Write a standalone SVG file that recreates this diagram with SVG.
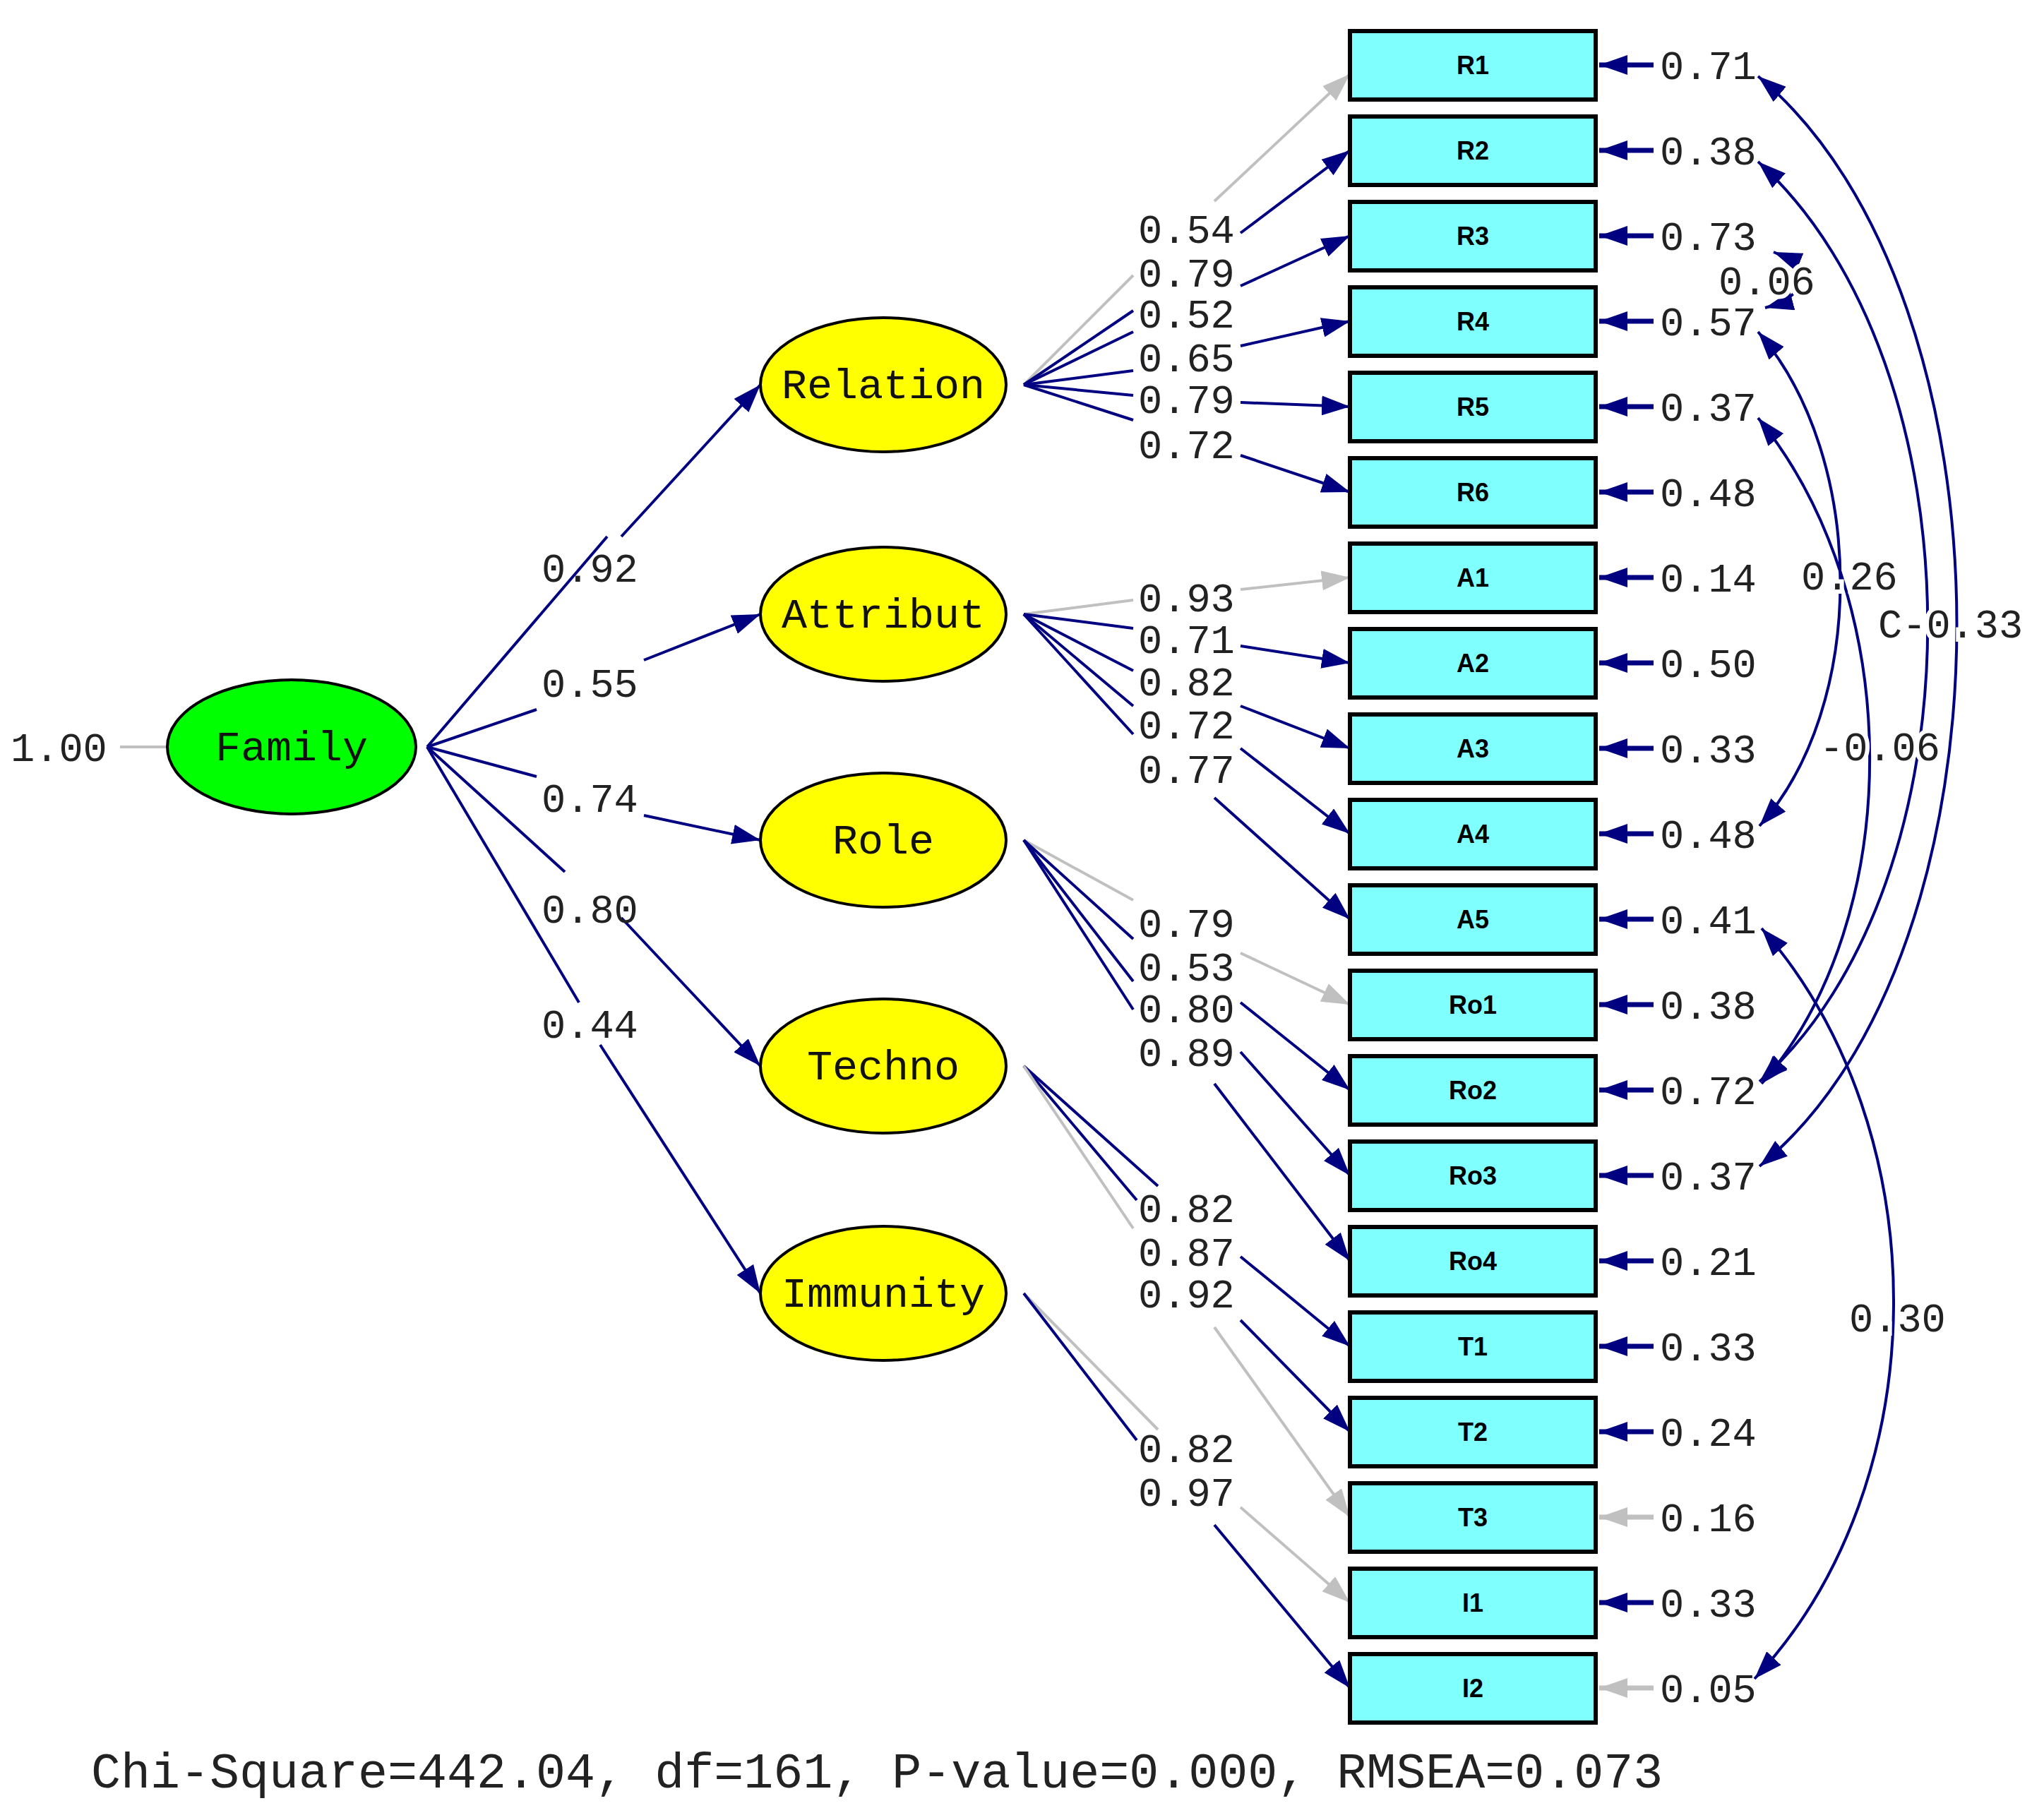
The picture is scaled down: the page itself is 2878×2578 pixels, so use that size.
<svg xmlns="http://www.w3.org/2000/svg" width="2878" height="2578" viewBox="0 0 2878 2578">
<style>
.t{font-family:"Liberation Mono",monospace;font-size:57px;fill:#222}
.h{paint-order:stroke;stroke:#fff;stroke-width:12px}
.lat{font-family:"Liberation Mono",monospace;font-size:60px;fill:#111;text-anchor:middle}
.bx{fill:#80ffff;stroke:#000;stroke-width:6}
.bl{font-family:"Liberation Sans",sans-serif;font-weight:bold;font-size:36px;fill:#000;text-anchor:middle}
.n{fill:none;stroke:#000080;stroke-width:4}
.g{fill:none;stroke:#c0c0c0;stroke-width:4}
.ne{stroke:#000080;stroke-width:7}
.ge{stroke:#c0c0c0;stroke-width:7}
</style>
<defs>
<marker id="an" markerUnits="userSpaceOnUse" markerWidth="42" markerHeight="28" refX="40" refY="14" orient="auto-start-reverse"><path d="M0,0 L40,14 L0,28 z" fill="#000080"/></marker>
<marker id="ag" markerUnits="userSpaceOnUse" markerWidth="42" markerHeight="28" refX="40" refY="14" orient="auto-start-reverse"><path d="M0,0 L40,14 L0,28 z" fill="#c0c0c0"/></marker>
</defs>
<g id="connectors">
<line x1="170" y1="1058" x2="236" y2="1058" class="g"/>
<path class="n" d="M605,1058 L860,760"/><path class="n" d="M880,760 L1077,545" marker-end="url(#an)"/>
<path class="n" d="M605,1058 L760,1005"/><path class="n" d="M912,935 L1077,870" marker-end="url(#an)"/>
<path class="n" d="M605,1058 L760,1100"/><path class="n" d="M912,1155 L1077,1190" marker-end="url(#an)"/>
<path class="n" d="M605,1058 L800,1235"/><path class="n" d="M880,1300 L1077,1510" marker-end="url(#an)"/>
<path class="n" d="M605,1058 L820,1420"/><path class="n" d="M850,1480 L1077,1832" marker-end="url(#an)"/>
<!-- Relation -->
<path class="g" d="M1450,545 L1605,390"/><path class="g" d="M1720,285 L1912,105" marker-end="url(#ag)"/>
<path class="n" d="M1450,545 L1605,440"/><path class="n" d="M1757,330 L1912,213" marker-end="url(#an)"/>
<path class="n" d="M1450,545 L1605,470"/><path class="n" d="M1757,405 L1912,334" marker-end="url(#an)"/>
<path class="n" d="M1450,545 L1605,525"/><path class="n" d="M1757,490 L1912,455" marker-end="url(#an)"/>
<path class="n" d="M1450,545 L1605,560"/><path class="n" d="M1757,570 L1912,576" marker-end="url(#an)"/>
<path class="n" d="M1450,545 L1605,595"/><path class="n" d="M1757,645 L1912,697" marker-end="url(#an)"/>
<!-- Attribut -->
<path class="g" d="M1450,870 L1605,850"/><path class="g" d="M1757,835 L1912,818" marker-end="url(#ag)"/>
<path class="n" d="M1450,870 L1605,890"/><path class="n" d="M1757,915 L1912,939" marker-end="url(#an)"/>
<path class="n" d="M1450,870 L1605,950"/><path class="n" d="M1757,1000 L1912,1060" marker-end="url(#an)"/>
<path class="n" d="M1450,870 L1605,1000"/><path class="n" d="M1757,1060 L1912,1181" marker-end="url(#an)"/>
<path class="n" d="M1450,870 L1605,1040"/><path class="n" d="M1720,1130 L1912,1302" marker-end="url(#an)"/>
<!-- Role -->
<path class="g" d="M1450,1190 L1605,1275"/><path class="g" d="M1757,1350 L1912,1423" marker-end="url(#ag)"/>
<path class="n" d="M1450,1190 L1605,1330"/><path class="n" d="M1757,1420 L1912,1544" marker-end="url(#an)"/>
<path class="n" d="M1450,1190 L1605,1390"/><path class="n" d="M1757,1490 L1912,1665" marker-end="url(#an)"/>
<path class="n" d="M1450,1190 L1605,1430"/><path class="n" d="M1720,1535 L1912,1786" marker-end="url(#an)"/>
<!-- Techno -->
<path class="n" d="M1450,1510 L1640,1680"/><path class="n" d="M1757,1780 L1912,1907" marker-end="url(#an)"/>
<path class="n" d="M1450,1510 L1610,1700"/><path class="n" d="M1757,1870 L1912,2028" marker-end="url(#an)"/>
<path class="g" d="M1450,1510 L1605,1740"/><path class="g" d="M1720,1880 L1912,2149" marker-end="url(#ag)"/>
<!-- Immunity -->
<path class="g" d="M1450,1832 L1640,2025"/><path class="g" d="M1757,2135 L1912,2270" marker-end="url(#ag)"/>
<path class="n" d="M1450,1832 L1610,2040"/><path class="n" d="M1720,2160 L1912,2391" marker-end="url(#an)"/>
<!-- error arrows -->
<g class="ne">
<line x1="2342" y1="92" x2="2265" y2="92" marker-end="url(#an)"/>
<line x1="2342" y1="213" x2="2265" y2="213" marker-end="url(#an)"/>
<line x1="2342" y1="334" x2="2265" y2="334" marker-end="url(#an)"/>
<line x1="2342" y1="455" x2="2265" y2="455" marker-end="url(#an)"/>
<line x1="2342" y1="576" x2="2265" y2="576" marker-end="url(#an)"/>
<line x1="2342" y1="697" x2="2265" y2="697" marker-end="url(#an)"/>
<line x1="2342" y1="818" x2="2265" y2="818" marker-end="url(#an)"/>
<line x1="2342" y1="939" x2="2265" y2="939" marker-end="url(#an)"/>
<line x1="2342" y1="1060" x2="2265" y2="1060" marker-end="url(#an)"/>
<line x1="2342" y1="1181" x2="2265" y2="1181" marker-end="url(#an)"/>
<line x1="2342" y1="1302" x2="2265" y2="1302" marker-end="url(#an)"/>
<line x1="2342" y1="1423" x2="2265" y2="1423" marker-end="url(#an)"/>
<line x1="2342" y1="1544" x2="2265" y2="1544" marker-end="url(#an)"/>
<line x1="2342" y1="1665" x2="2265" y2="1665" marker-end="url(#an)"/>
<line x1="2342" y1="1786" x2="2265" y2="1786" marker-end="url(#an)"/>
<line x1="2342" y1="1907" x2="2265" y2="1907" marker-end="url(#an)"/>
<line x1="2342" y1="2028" x2="2265" y2="2028" marker-end="url(#an)"/>
<line x1="2342" y1="2270" x2="2265" y2="2270" marker-end="url(#an)"/>
</g>
<g class="ge">
<line x1="2342" y1="2149" x2="2265" y2="2149" marker-end="url(#ag)"/>
<line x1="2342" y1="2391" x2="2265" y2="2391" marker-end="url(#ag)"/>
</g>
<!-- correlated errors -->
<path class="n" d="M2490,108 C2865,420 2865,1350 2492,1652" marker-start="url(#an)" marker-end="url(#an)"/>
<path class="n" d="M2490,229 C2810,520 2810,1250 2492,1532" marker-start="url(#an)" marker-end="url(#an)"/>
<path class="n" d="M2490,592 C2700,850 2700,1300 2495,1535" marker-start="url(#an)" marker-end="url(#an)"/>
<path class="n" d="M2490,470 C2645,650 2645,1000 2492,1170" marker-start="url(#an)" marker-end="url(#an)"/>
<path class="n" d="M2512,357 C2570,380 2560,420 2500,436" marker-start="url(#an)" marker-end="url(#an)"/>
<path class="n" d="M2495,1315 C2746,1600 2746,2100 2485,2378" marker-start="url(#an)" marker-end="url(#an)"/>
</g>
<g id="Family"><ellipse cx="413" cy="1058" rx="176" ry="95" fill="#00ff00" stroke="#000" stroke-width="4"/><text class="lat" x="413" y="1077">Family</text></g>
<g id="Relation"><ellipse cx="1251" cy="545" rx="174" ry="95" fill="#ffff00" stroke="#000" stroke-width="4"/><text class="lat" x="1251" y="564">Relation</text></g>
<g id="Attribut"><ellipse cx="1251" cy="870" rx="174" ry="95" fill="#ffff00" stroke="#000" stroke-width="4"/><text class="lat" x="1251" y="889">Attribut</text></g>
<g id="Role"><ellipse cx="1251" cy="1190" rx="174" ry="95" fill="#ffff00" stroke="#000" stroke-width="4"/><text class="lat" x="1251" y="1209">Role</text></g>
<g id="Techno"><ellipse cx="1251" cy="1510" rx="174" ry="95" fill="#ffff00" stroke="#000" stroke-width="4"/><text class="lat" x="1251" y="1529">Techno</text></g>
<g id="Immunity"><ellipse cx="1251" cy="1832" rx="174" ry="95" fill="#ffff00" stroke="#000" stroke-width="4"/><text class="lat" x="1251" y="1851">Immunity</text></g>
<g id="boxes">
<g id="R1"><rect class="bx" x="1912" y="44" width="348" height="97"/><text class="bl" x="2086" y="105">R1</text></g>
<g id="R2"><rect class="bx" x="1912" y="165" width="348" height="97"/><text class="bl" x="2086" y="226">R2</text></g>
<g id="R3"><rect class="bx" x="1912" y="286" width="348" height="97"/><text class="bl" x="2086" y="347">R3</text></g>
<g id="R4"><rect class="bx" x="1912" y="407" width="348" height="97"/><text class="bl" x="2086" y="468">R4</text></g>
<g id="R5"><rect class="bx" x="1912" y="528" width="348" height="97"/><text class="bl" x="2086" y="589">R5</text></g>
<g id="R6"><rect class="bx" x="1912" y="649" width="348" height="97"/><text class="bl" x="2086" y="710">R6</text></g>
<g id="A1"><rect class="bx" x="1912" y="770" width="348" height="97"/><text class="bl" x="2086" y="831">A1</text></g>
<g id="A2"><rect class="bx" x="1912" y="891" width="348" height="97"/><text class="bl" x="2086" y="952">A2</text></g>
<g id="A3"><rect class="bx" x="1912" y="1012" width="348" height="97"/><text class="bl" x="2086" y="1073">A3</text></g>
<g id="A4"><rect class="bx" x="1912" y="1133" width="348" height="97"/><text class="bl" x="2086" y="1194">A4</text></g>
<g id="A5"><rect class="bx" x="1912" y="1254" width="348" height="97"/><text class="bl" x="2086" y="1315">A5</text></g>
<g id="Ro1"><rect class="bx" x="1912" y="1375" width="348" height="97"/><text class="bl" x="2086" y="1436">Ro1</text></g>
<g id="Ro2"><rect class="bx" x="1912" y="1496" width="348" height="97"/><text class="bl" x="2086" y="1557">Ro2</text></g>
<g id="Ro3"><rect class="bx" x="1912" y="1617" width="348" height="97"/><text class="bl" x="2086" y="1678">Ro3</text></g>
<g id="Ro4"><rect class="bx" x="1912" y="1738" width="348" height="97"/><text class="bl" x="2086" y="1799">Ro4</text></g>
<g id="T1"><rect class="bx" x="1912" y="1859" width="348" height="97"/><text class="bl" x="2086" y="1920">T1</text></g>
<g id="T2"><rect class="bx" x="1912" y="1980" width="348" height="97"/><text class="bl" x="2086" y="2041">T2</text></g>
<g id="T3"><rect class="bx" x="1912" y="2101" width="348" height="97"/><text class="bl" x="2086" y="2162">T3</text></g>
<g id="I1"><rect class="bx" x="1912" y="2222" width="348" height="97"/><text class="bl" x="2086" y="2283">I1</text></g>
<g id="I2"><rect class="bx" x="1912" y="2343" width="348" height="97"/><text class="bl" x="2086" y="2404">I2</text></g>
</g>
<g id="labels" class="t">
<text x="15" y="1078">1.00</text>
<text x="767" y="824">0.92</text><text x="767" y="987">0.55</text><text x="767" y="1150">0.74</text><text x="767" y="1307">0.80</text><text x="767" y="1470">0.44</text>
<text x="1612" y="344">0.54</text><text x="1612" y="406">0.79</text><text x="1612" y="464">0.52</text><text x="1612" y="526">0.65</text><text x="1612" y="585">0.79</text><text x="1612" y="649">0.72</text>
<text x="1612" y="866">0.93</text><text x="1612" y="925">0.71</text><text x="1612" y="985">0.82</text><text x="1612" y="1046">0.72</text><text x="1612" y="1109">0.77</text>
<text x="1612" y="1327">0.79</text><text x="1612" y="1389">0.53</text><text x="1612" y="1448">0.80</text><text x="1612" y="1510">0.89</text>
<text x="1612" y="1731">0.82</text><text x="1612" y="1793">0.87</text><text x="1612" y="1852">0.92</text>
<text x="1612" y="2071">0.82</text><text x="1612" y="2133">0.97</text>
<text x="2351" y="112">0.71</text><text x="2351" y="233">0.38</text><text x="2351" y="354">0.73</text><text x="2351" y="475">0.57</text><text x="2351" y="596">0.37</text><text x="2351" y="717">0.48</text>
<text x="2351" y="838">0.14</text><text x="2351" y="959">0.50</text><text x="2351" y="1080">0.33</text><text x="2351" y="1201">0.48</text><text x="2351" y="1322">0.41</text>
<text x="2351" y="1443">0.38</text><text x="2351" y="1564">0.72</text><text x="2351" y="1685">0.37</text><text x="2351" y="1806">0.21</text>
<text x="2351" y="1927">0.33</text><text x="2351" y="2048">0.24</text><text x="2351" y="2169">0.16</text><text x="2351" y="2290">0.33</text><text x="2351" y="2411">0.05</text>
<text class="h" x="2434" y="417">0.06</text>
<text class="h" x="2551" y="835">0.26</text>
<text class="h" x="2660" y="903">C-0.33</text>
<text class="h" x="2577" y="1077">-0.06</text>
<text class="h" x="2619" y="1886">0.30</text>
<text x="129" y="2532" style="font-size:70px">Chi-Square=442.04, df=161, P-value=0.000, RMSEA=0.073</text>
</g>
</svg>
